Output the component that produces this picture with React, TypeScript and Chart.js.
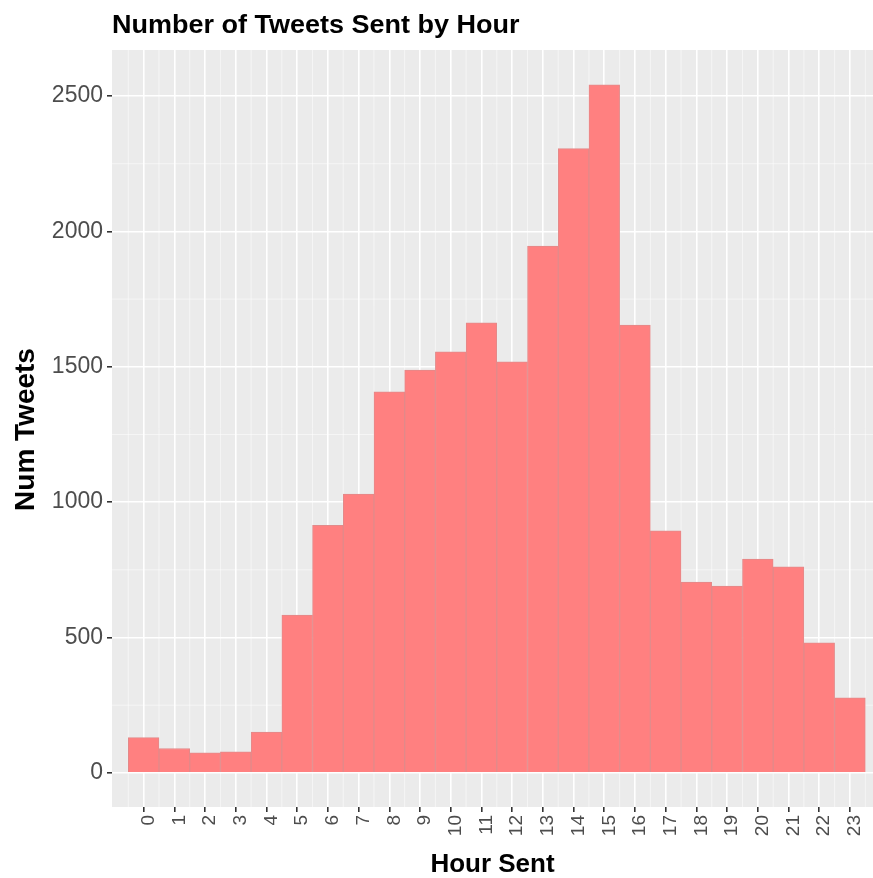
import React, { useEffect, useRef } from "react";
import { Chart, registerables } from "chart.js";

Chart.register(...registerables);

const chartTitle = "Number of Tweets Sent by Hour";
const xAxisTitle = "Hour Sent";
const yAxisTitle = "Num Tweets";

const hours = [0, 1, 2, 3, 4, 5, 6, 7, 8, 9, 10, 11, 12, 13, 14, 15, 16, 17, 18, 19, 20, 21, 22, 23];
const tweetCounts = [130, 90, 74, 78, 151, 583, 914, 1030, 1407, 1488, 1555, 1662, 1518, 1946, 2306, 2541, 1654, 894, 705, 690, 790, 761, 480, 277];
const yTickValues = [0, 500, 1000, 1500, 2000, 2500];
const yMinorValues = [250, 750, 1250, 1750, 2250];

const FONT = '"Liberation Sans", Arial, Helvetica, sans-serif';

const panelPlugin = {
  id: "panelBg",
  beforeDraw(chart: any) {
    const { ctx, chartArea } = chart;
    ctx.save();
    ctx.fillStyle = "#EBEBEB";
    ctx.fillRect(chartArea.left, chartArea.top, chartArea.right - chartArea.left, chartArea.bottom - chartArea.top);
    ctx.restore();
  },
  beforeDatasetsDraw(chart: any) {
    const { ctx, chartArea, scales } = chart;
    ctx.save();
    ctx.strokeStyle = "rgba(255,255,255,0.65)";
    ctx.lineWidth = 0.8;
    ctx.beginPath();
    const xHalf = [hours[0] - 0.5, ...hours.map((h) => h + 0.5)];
    xHalf.forEach((v) => {
      const px = scales.x.getPixelForValue(v);
      if (px < chartArea.left || px > chartArea.right) return;
      ctx.moveTo(px, chartArea.top);
      ctx.lineTo(px, chartArea.bottom);
    });
    yMinorValues.forEach((v) => {
      const py = scales.y.getPixelForValue(v);
      ctx.moveTo(chartArea.left, py);
      ctx.lineTo(chartArea.right, py);
    });
    ctx.stroke();
    ctx.restore();
  },
  afterDraw(chart: any) {
    const { ctx, chartArea } = chart;
    ctx.save();
    ctx.fillStyle = "#000000";
    ctx.font = `bold 25px ${FONT}`;
    ctx.textAlign = "left";
    ctx.textBaseline = "alphabetic";
    ctx.save();
    ctx.translate(chartArea.left, 33);
    ctx.scale(1.08, 1);
    ctx.fillText(chartTitle, 0, 0);
    ctx.restore();
    ctx.font = `bold 26px ${FONT}`;
    ctx.textAlign = "center";
    ctx.fillText(xAxisTitle, (chartArea.left + chartArea.right) / 2, 872);
    ctx.save();
    ctx.translate(34, (chartArea.top + chartArea.bottom) / 2 + 1);
    ctx.rotate(-Math.PI / 2);
    ctx.font = `bold 28px ${FONT}`;
    ctx.textAlign = "center";
    ctx.fillText(yAxisTitle, 0, 0);
    ctx.restore();
    ctx.restore();
  },
};

export default function App() {
  const canvasRef = useRef<HTMLCanvasElement | null>(null);

  useEffect(() => {
    if (!canvasRef.current) return;
    const chart = new Chart(canvasRef.current, {
      type: "bar",
      data: {
        datasets: [
          {
            label: "Tweets",
            data: hours.map((h, i) => ({ x: h, y: tweetCounts[i] })),
            backgroundColor: "#FF8080",
            borderColor: "#E28A8A",
            borderWidth: 1,
            barPercentage: 1,
            categoryPercentage: 1,
          },
        ],
      },
      options: {
        animation: false,
        responsive: false,
        maintainAspectRatio: false,
        layout: { padding: { top: 50, left: 0, right: 0, bottom: 0 } },
        plugins: {
          legend: { display: false },
          title: { display: false },
          tooltip: { enabled: false },
        },
        scales: {
          x: {
            type: "linear",
            min: -1.03,
            max: 23.75,
            offset: false,
            afterBuildTicks(scale: any) {
              scale.ticks = hours.map((h) => ({ value: h }));
            },
            afterFit(scale: any) {
              scale.height = 71;
              scale.paddingLeft = 0;
              scale.paddingRight = 0;
            },
            border: { display: false },
            grid: {
              offset: false,
              color: "#FFFFFF",
              lineWidth: 1.6,
              tickColor: "#333333",
              tickLength: 5,
            },
            ticks: {
              autoSkip: false,
              minRotation: 90,
              maxRotation: 90,
              padding: 3,
              labelOffset: 5,
              color: "#4D4D4D",
              font: { family: FONT, size: 19 },
              callback: (v: any) => String(v),
            },
          },
          y: {
            type: "linear",
            min: -126,
            max: 2670,
            afterBuildTicks(scale: any) {
              scale.ticks = yTickValues.map((v) => ({ value: v }));
            },
            afterFit(scale: any) {
              scale.width = 112;
              scale.paddingTop = 0;
              scale.paddingBottom = 0;
            },
            border: { display: false },
            grid: {
              color: "#FFFFFF",
              lineWidth: 1.6,
              tickColor: "#333333",
              tickLength: 5,
            },
            ticks: {
              autoSkip: false,
              padding: 4,
              color: "#4D4D4D",
              font: { family: FONT, size: 23 },
              callback: (v: any) => String(v),
            },
          },
        },
      },
      plugins: [panelPlugin],
    } as any);
    return () => chart.destroy();
  }, []);

  return (
    <div style={{ position: "fixed", left: 0, top: 0, width: 873, height: 878, background: "#FFFFFF" }}>
      <canvas ref={canvasRef} width={873} height={878} style={{ width: 873, height: 878, display: "block" }} />
    </div>
  );
}
